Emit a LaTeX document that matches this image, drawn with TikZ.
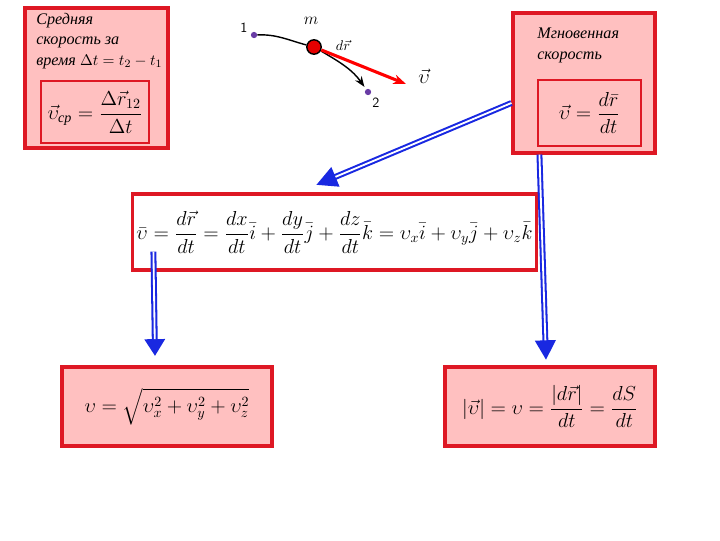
\documentclass[tikz,border=0pt]{standalone}
\usepackage{amsmath}
\usepackage{fontspec}
\setmainfont{Liberation Serif}
\usetikzlibrary{positioning, arrows.meta, calc}
\definecolor{boxfill}{RGB}{255, 192, 192}
\definecolor{boxline}{RGB}{222, 24, 36}
\definecolor{arrblue}{RGB}{25, 40, 225}
\definecolor{pointc}{RGB}{105, 60, 165}

\begin{document}
\begin{tikzpicture}[
    x=0.025cm, y=-0.025cm,
    >=Stealth,
    outerbox/.style={
        rectangle, draw=boxline, fill=boxfill,
        line width=2.2pt, inner sep=0pt,
    },
    innerbox/.style={
        rectangle, draw=boxline,
        line width=1.5pt, inner sep=0pt,
        font=\Large,
    },
    labeltext/.style={
        font=\fontsize{11.5}{14.5}\selectfont\itshape,
        align=left, anchor=north west, inner sep=0pt,
    },
    dblarrow/.style={
        draw=arrblue, line width=4.2pt,
        -{Triangle[length=#1, width=14pt]},
        postaction={draw=white, line width=1.3pt, -, shorten >=#1},
    },
    dblarrow/.default=12pt,
    dotpt/.style={circle, fill=pointc, inner sep=0pt, minimum size=4.5pt},
    ball/.style={circle, fill=red!90!black, draw=black, line width=1pt,
        inner sep=0pt, minimum size=0.36cm},
]
\useasboundingbox (0,0) rectangle (720,540);

% =================================================
% Top left: average velocity
% =================================================
\node[outerbox, minimum width=3.575cm, minimum height=3.5cm] (boxA) at (96.5,78) {};
\node[labeltext] (txtA) at (36,13) {Средняя\\скорость за\\время {\upshape\fontsize{11}{14}\selectfont$\Delta t = t_2 - t_1$}};
\node[innerbox, minimum width=2.7cm, minimum height=1.55cm] (innA) at (95,112)
    {$\displaystyle \vec{\upsilon}_{\textit{ср}} = \frac{\Delta\vec{r}_{12}}{\Delta t}$};

% =================================================
% Top middle: trajectory
% =================================================
\node[dotpt] (p1) at (254,35) {};
\node[ball] (mass) at (314,47) {};
\node[dotpt] (p2) at (368,92) {};
\coordinate (vtip) at (406,84);

\draw[line width=1pt] (p1) to[out=2, in=165] (mass);
\draw[->, line width=1pt, shorten >=2pt] (mass) to[out=-30, in=125] (p2);
\draw[-{Stealth[length=9pt]}, draw=red, line width=2.2pt] (mass) -- (vtip);

\node (lbl1) at (244,28) {\sffamily 1};
\node (lbl2) at (376,103) {\sffamily 2};
\node (lblm) at (311,21) {\large$m$};
\node (lbldr) at (343,45) {$d\vec{r}$};
\node (lblv) at (424,76) {\Large$\vec{\upsilon}$};

% =================================================
% Top right: instantaneous velocity
% =================================================
\node[outerbox, minimum width=3.55cm, minimum height=3.5cm] (boxC) at (584,83) {};
\node[labeltext] (txtC) at (537,28) {Мгновенная\\скорость};
\node[innerbox, minimum width=2.575cm, minimum height=1.65cm] (innC) at (589.5,113)
    {$\displaystyle \vec{\upsilon} = \frac{d\bar{r}}{dt}$};

% =================================================
% Middle: components
% =================================================
\node[outerbox, fill=white, minimum width=10.075cm, minimum height=1.9cm] (boxM) at (334.5,232)
    {\fontsize{13.6}{16}\selectfont$\displaystyle \bar{\upsilon} = \frac{d\vec{r}}{dt} = \frac{dx}{dt}\bar{i} + \frac{dy}{dt}\bar{j}
    + \frac{dz}{dt}\bar{k} = \upsilon_x\bar{i} + \upsilon_y\bar{j} + \upsilon_z\bar{k}$};

% =================================================
% Bottom: magnitude
% =================================================
\node[outerbox, minimum width=5.25cm, minimum height=1.975cm] (boxL) at (167,406.5)
    {\Large$\displaystyle \upsilon = \sqrt{\upsilon_x^2 + \upsilon_y^2 + \upsilon_z^2}$};
\node[outerbox, minimum width=5.25cm, minimum height=1.975cm] (boxR) at (550,406.5)
    {\Large$\displaystyle \left|\vec{\upsilon}\right| = \upsilon = \frac{\left|d\vec{r}\right|}{dt} = \frac{dS}{dt}$};

% =================================================
% Flow arrows
% =================================================
\coordinate (tipM) at (316,185);
\coordinate (srcR) at ($(boxC.south west)+(28,0)$);
\coordinate (tipR) at (546,360);
\coordinate (srcL) at ($(boxM.south west)+(22,-20)$);
\coordinate (tipL) at (155,356);

\draw[dblarrow=15pt] ($(boxC.west)+(0,20)$) -- (tipM);
\draw[dblarrow=14pt] (srcR) -- (tipR);
\draw[dblarrow] (srcL) -- (tipL);

\end{tikzpicture}
\end{document}
